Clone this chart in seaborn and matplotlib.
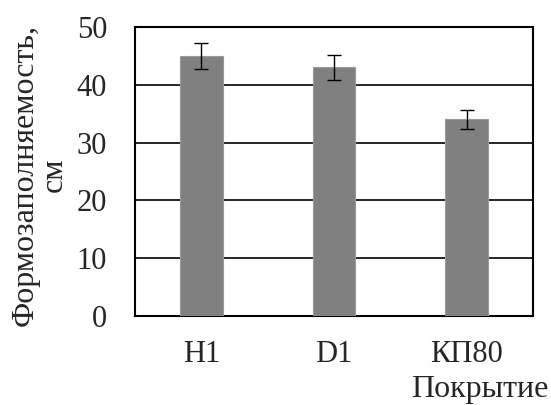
import matplotlib
matplotlib.use("Agg")
import matplotlib.pyplot as plt
import seaborn as sns
import pandas as pd
import numpy as np
from matplotlib.ticker import FixedLocator

categories = ["H1", "D1", "КП80"]
values = [45, 43, 34]
errors = [2.3, 2.2, 1.7]
yticks = [0, 10, 20, 30, 40, 50]

sns.set_style("white")
plt.rcParams['font.family'] = ['Liberation Serif', 'DejaVu Serif']
FS = 22
LFS = 23

df = pd.DataFrame({"cat": categories, "val": values})

W, H = 551, 405
fig = plt.figure(figsize=(W/100, H/100), dpi=100)
ax = fig.add_axes([135/W, 1-316/H, (533-135)/W, (316-27)/H])

sns.barplot(data=df, x="cat", y="val", color="#808080", width=0.32,
            edgecolor="#9a9a9a", linewidth=0.8, saturation=1, ax=ax, zorder=3)
ax.errorbar(np.arange(len(categories)), values, yerr=errors, fmt="none",
            ecolor="black", elinewidth=1.0, capsize=5, capthick=1.0, zorder=4)

ax.set_ylim(0, 50)
ax.set_xlim(-0.5, 2.5)
ax.set_yticks(yticks)
ax.set_yticklabels([str(t) for t in yticks], fontsize=FS)
ax.set_xticks(range(len(categories)))
ax.set_xticklabels(categories, fontsize=FS)
ax.tick_params(axis="x", which="major", length=0, pad=17)
ax.xaxis.set_minor_locator(FixedLocator([0.5, 1.5]))
ax.tick_params(axis="x", which="minor", direction="in", length=5, width=1, color="black")
ax.tick_params(axis="y", length=3, width=1.2, direction="in", color="black", pad=20)
ax.yaxis.grid(True, color="black", linewidth=1.2, zorder=0)
ax.set_axisbelow(True)
for s in ax.spines.values():
    s.set_visible(True)
    s.set_color("black")
    s.set_linewidth(1.5)

ax.set_xlabel("")
ax.set_ylabel("")
fig.text(40/W, 1-175/H, "Формозаполняемость,\nсм", rotation=90, ha="center",
         va="center", multialignment="center", fontsize=LFS, linespacing=1.0)
fig.text(548/W, 1-397/H, "Покрытие", ha="right", va="baseline", fontsize=LFS)

fig.savefig("out.png", dpi=100)
